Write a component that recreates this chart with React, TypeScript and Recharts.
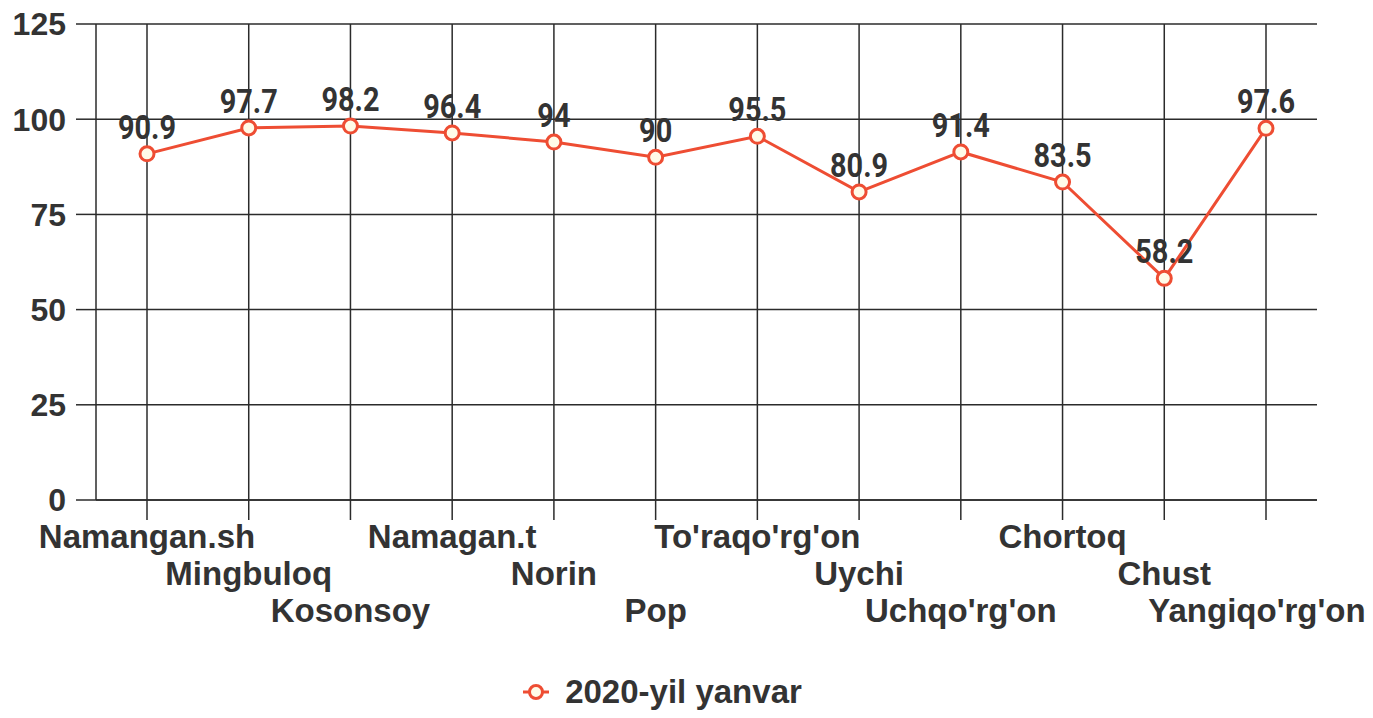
import React from "react";
import {
  LineChart,
  Line,
  XAxis,
  YAxis,
  CartesianGrid,
  Legend,
  LabelList,
} from "recharts";

const districts = [
  "Namangan.sh",
  "Mingbuloq",
  "Kosonsoy",
  "Namagan.t",
  "Norin",
  "Pop",
  "To'raqo'rg'on",
  "Uychi",
  "Uchqo'rg'on",
  "Chortoq",
  "Chust",
  "Yangiqo'rg'on",
];

const january2020 = [90.9, 97.7, 98.2, 96.4, 94, 90, 95.5, 80.9, 91.4, 83.5, 58.2, 97.6];

const yTicks = [0, 25, 50, 75, 100, 125];

const seriesName = "2020-yil yanvar";

const data = districts.map((name, i) => ({ name, value: january2020[i] }));

const LINE_COLOR = "#ee4d33";
const TEXT_COLOR = "#333333";
const GRID_COLOR = "#2b2b2b";
const AXIS_FONT = "'Liberation Sans', Arial, sans-serif";
const LABEL_FONT = "Roboto, 'Liberation Sans', sans-serif";

// x labels are staggered over three rows so they don't overlap
const StaggeredTick = (props: any) => {
  const { x, y, payload, index } = props;
  const row = index % 3;
  // last label is nudged in so it stays inside the page
  const nudge = index === districts.length - 1 ? -9 : 0;
  return (
    <text
      x={x}
      y={y + row * 37}
      dx={nudge}
      dy={28}
      textAnchor="middle"
      fill={TEXT_COLOR}
      fontFamily={AXIS_FONT}
      fontWeight="bold"
      fontSize={33}
    >
      {payload.value}
    </text>
  );
};

// condensed-looking value label above each point
const ValueLabel = (props: any) => {
  const { x, y, value } = props;
  const ty = y - 15;
  return (
    <text
      x={0}
      y={0}
      transform={`translate(${x},${ty}) scale(0.85,1)`}
      textAnchor="middle"
      fill={TEXT_COLOR}
      fontFamily={LABEL_FONT}
      fontWeight="bold"
      fontSize={34}
    >
      {value}
    </text>
  );
};

const LegendContent = (props: any) => {
  const item = props.payload && props.payload[0];
  if (!item) return null;
  return (
    <div
      style={{
        display: "flex",
        justifyContent: "center",
        alignItems: "center",
        paddingLeft: 8,
        transform: "translateY(-7px)",
      }}
    >
      <svg width={26} height={20} style={{ marginRight: 16 }}>
        <line x1={0} y1={10} x2={26} y2={10} stroke={LINE_COLOR} strokeWidth={3} />
        <circle cx={13} cy={10} r={6.5} fill="#fffbe8" stroke={LINE_COLOR} strokeWidth={3} />
      </svg>
      <span
        style={{
          color: TEXT_COLOR,
          fontSize: 33,
          fontWeight: "bold",
          fontFamily: AXIS_FONT,
          lineHeight: "38px",
        }}
      >
        {item.value}
      </span>
    </div>
  );
};

export default function App() {
  return (
    <div style={{ position: "absolute", left: 0, top: 0, width: 1373, height: 718, background: "#fff" }}>
      <LineChart
        width={1373}
        height={718}
        data={data}
        margin={{ top: 24, right: 56, bottom: 0, left: 0 }}
      >
        <CartesianGrid stroke={GRID_COLOR} strokeWidth={1.5} syncWithTicks />
        <XAxis
          dataKey="name"
          interval={0}
          padding={{ left: 51, right: 51 }}
          tickSize={20}
          tickMargin={0}
          height={180}
          stroke={GRID_COLOR}
          strokeWidth={1.5}
          tick={<StaggeredTick />}
        />
        <YAxis
          domain={[0, 125]}
          ticks={yTicks}
          width={96}
          tickSize={20}
          tickMargin={10}
          stroke={GRID_COLOR}
          strokeWidth={1.5}
          tick={{
            fill: TEXT_COLOR,
            fontSize: 32,
            fontWeight: "bold",
            fontFamily: AXIS_FONT,
          }}
        />
        <Legend height={38} content={<LegendContent />} />
        <Line
          type="linear"
          dataKey="value"
          name={seriesName}
          stroke={LINE_COLOR}
          strokeWidth={3}
          dot={{ r: 7, fill: "#fffbe8", stroke: LINE_COLOR, strokeWidth: 3 }}
          isAnimationActive={false}
        >
          <LabelList dataKey="value" content={<ValueLabel />} />
        </Line>
      </LineChart>
    </div>
  );
}
